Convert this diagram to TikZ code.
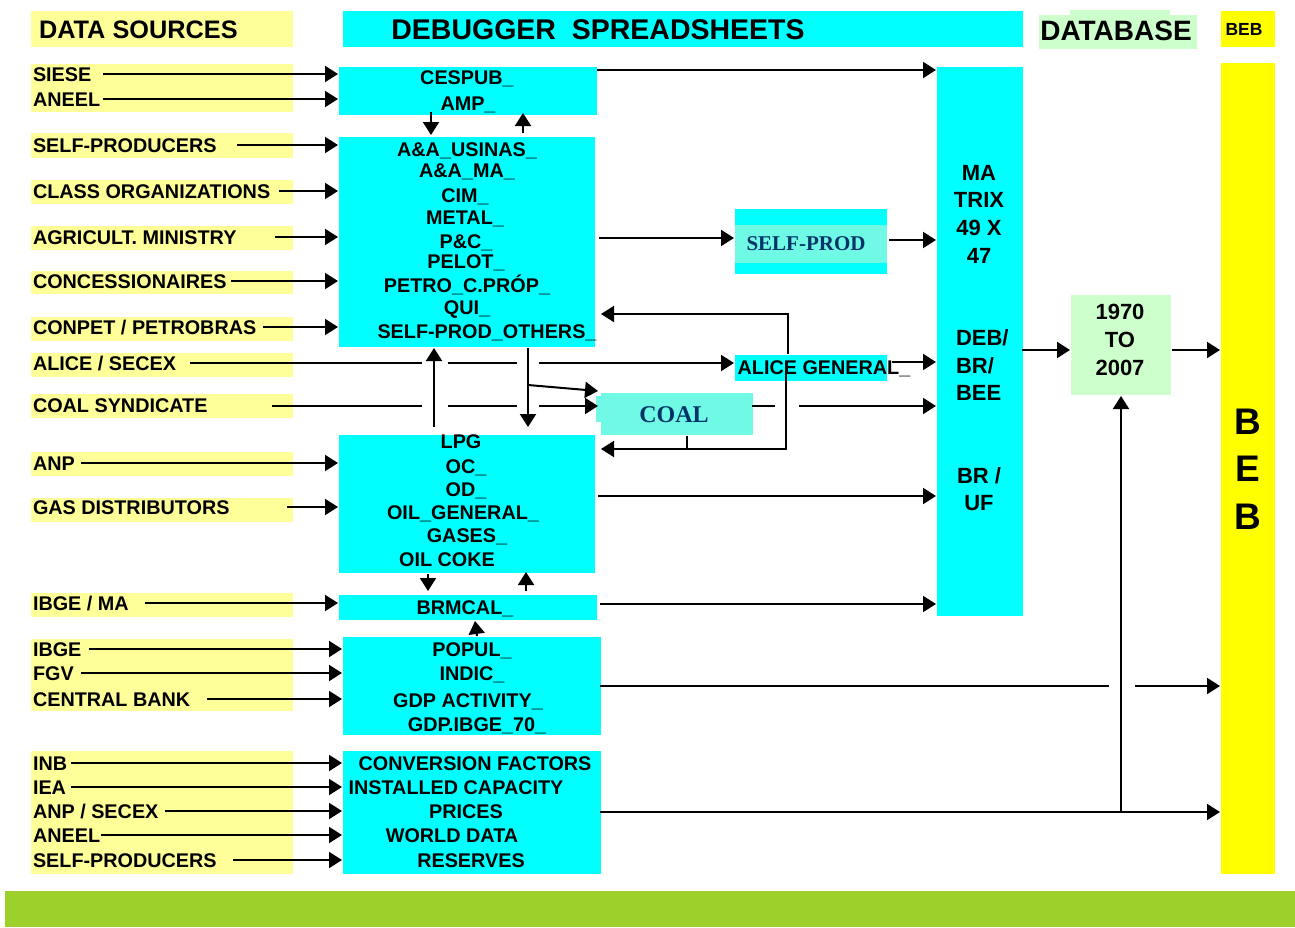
\documentclass[tikz,border=0pt]{standalone}
\usepackage{fontspec}
\setmainfont{Liberation Sans}
\newfontfamily\serifbold{Liberation Serif}
\usetikzlibrary{arrows.meta}

\definecolor{aqua}{RGB}{0,255,255}
\definecolor{paleyellow}{RGB}{255,255,153}
\definecolor{bebyellow}{RGB}{255,255,0}
\definecolor{mint}{RGB}{204,255,204}
\definecolor{coalfill}{RGB}{112,250,230}
\definecolor{navytext}{RGB}{0,51,102}
\definecolor{footgreen}{RGB}{158,208,44}

\begin{document}
\begin{tikzpicture}
    [ x=1pt, y=-1pt, line width=2pt,
      >={Triangle[length=13pt,width=16pt]},
      srcbg/.style={fill=paleyellow, anchor=north west, inner sep=0pt, minimum width=262pt},
      sheet/.style={fill=aqua, anchor=north west, inner sep=0pt},
      dbbg/.style={fill=mint, anchor=north west, inner sep=0pt},
      bebbg/.style={fill=bebyellow, anchor=north west, inner sep=0pt},
      coalbg/.style={fill=coalfill, anchor=north west, inner sep=0pt},
      lbl/.style={inner sep=0pt, font=\bfseries\fontsize{19.8}{22}\selectfont,
                  text height=14.2pt, text depth=0pt},
      src/.style={lbl, anchor=west},
      title/.style={lbl, font=\bfseries\fontsize{28.5}{31}\selectfont, text height=20.4pt},
      mat/.style={lbl, font=\bfseries\fontsize{22}{24}\selectfont, text height=15.8pt},
      serif/.style={inner sep=0pt, text=navytext, text height=14pt, text depth=0pt,
                    font=\serifbold\bfseries\fontsize{21}{24}\selectfont},
    ]
    \useasboundingbox (0,0) rectangle (1295,927);
    \fill[footgreen] (5,891) rectangle (1295,927);

    % headers
    \node[srcbg, minimum height=36pt] (hdrsrc) at (30,10) {};
    \node[title, anchor=west, font=\bfseries\fontsize{25.3}{28}\selectfont, text height=18.1pt]
        (tsrc) at (38,29) {DATA SOURCES};
    \node[sheet, minimum width=680pt, minimum height=36pt] (hdrdbg) at (342,10) {};
    \node[title] (tdbg) at (598,29) {DEBUGGER\ \ SPREADSHEETS};
    \fill[mint] (1070,10) rectangle (1170,48);
    \node[dbbg, minimum width=158pt, minimum height=34pt] (hdrdb) at (1038,14) {};
    \node[title, font=\bfseries\fontsize{28}{30}\selectfont, text height=20pt]
        (tdb) at (1116,30) {DATABASE};
    \node[bebbg, minimum width=54pt, minimum height=36pt] (hdrbeb) at (1220,10) {};
    \node[lbl, font=\bfseries\fontsize{17.5}{20}\selectfont, text height=12.5pt]
        (tbeb) at (1244,29) {BEB};

    % yellow source boxes
    \foreach \n / \top / \h in {1/63/48, 2/132/25, 3/179/24, 4/225/24, 5/270/23,
                                6/316/24, 7/352/24, 8/393/24, 9/451/24, 10/497/24,
                                11/592/24, 12/638/72, 13/750/123}
        \node[srcbg, minimum height=\h pt] (srcbox\n) at (30,\top) {};

    % debugger spreadsheets
    \node[sheet, minimum width=258pt, minimum height=48pt] (cespub) at (338,66) {};
    \node[sheet, minimum width=256pt, minimum height=210pt] (aa) at (338,136) {};
    \node[sheet, minimum width=256pt, minimum height=138pt] (lpg) at (338,434) {};
    \node[sheet, minimum width=258pt, minimum height=25pt] (brmcal) at (338,594) {};
    \node[sheet, minimum width=258pt, minimum height=98pt] (popul) at (342,636) {};
    \node[sheet, minimum width=258pt, minimum height=123pt] (conv) at (342,750) {};
    \node[sheet, minimum width=152pt, minimum height=65pt] (selfprod) at (734,208) {};
    \node[coalbg, minimum width=152pt, minimum height=38pt] (selfband) at (734,224) {};
    \node[sheet, minimum width=152pt, minimum height=26pt] (alice) at (734,354) {};
    \fill[coalfill] (596,396) rectangle (610,422);
    \node[coalbg, minimum width=152pt, minimum height=42pt] (coal) at (600,392) {};
    \node[sheet, minimum width=86pt, minimum height=549pt] (matrix) at (936,66) {};

    % database and BEB
    \node[dbbg, minimum width=100pt, minimum height=100pt] (period) at (1070,294) {};
    \node[bebbg, minimum width=54pt, minimum height=811pt] (beb) at (1220,62) {};

    \foreach \txt / \cx / \y [count=\i] in {
        CESPUB\_/467/77, AMP\_/468/103,
        A\&A\_USINAS\_/467/149, A\&A\_MA\_/467/170, CIM\_/465/195, METAL\_/465/217,
        P\&C\_/466/241, PELOT\_/466/261, PETRO\_C.PRÓP\_/467/285, QUI\_/467/307,
        SELF-PROD\_OTHERS\_/487/331,
        LPG/461/441, OC\_/466/466, OD\_/466/489, OIL\_GENERAL\_/463/512,
        GASES\_/467/535, {OIL COKE}/447/559,
        BRMCAL\_/465/607,
        POPUL\_/472/649, INDIC\_/472/673, {GDP ACTIVITY\_}/468/700, GDP.IBGE\_70\_/477/724,
        {CONVERSION FACTORS}/475/763, {INSTALLED CAPACITY}/456/787, PRICES/466/811,
        {WORLD DATA}/452/835, RESERVES/471/860}
        \node[lbl] (row\i) at (\cx,\y) {\txt};

    \node[serif] (tselfprod) at (806,243) {SELF-PROD};
    \node[serif, font=\serifbold\bfseries\fontsize{24}{26}\selectfont, text height=16pt]
        (tcoal) at (674,414) {COAL};
    \node[lbl] (talice) at (824,367) {ALICE GENERAL\_};

    \foreach \txt / \y [count=\i] in {MA/173, TRIX/200, {49 X}/228, 47/256, {BR /}/476, UF/503}
        \node[mat] (mat\i) at (979,\y) {\txt};
    \foreach \txt / \y [count=\i] in {{DEB/}/338, {BR/}/366, BEE/393}
        \node[mat, anchor=west] (deb\i) at (955,\y) {\txt};
    \foreach \txt / \y [count=\i] in {1970/312, TO/340, 2007/368}
        \node[mat] (year\i) at (1120,\y) {\txt};
    \foreach \txt / \y [count=\i] in {B/421, E/468, B/516}
        \node[lbl, font=\bfseries\fontsize{37}{40}\selectfont, text height=26.5pt]
            (big\i) at (1248,\y) {\txt};

    % sources into the spreadsheets
    \foreach \n / \txt / \y / \sx / \dest in {
        sSiese/SIESE/74/103/cespub, sAneel/ANEEL/99/103/cespub,
        sSelfA/SELF-PRODUCERS/145/237/aa, sClass/CLASS ORGANIZATIONS/191/279/aa,
        sAgri/AGRICULT. MINISTRY/237/275/aa, sConc/CONCESSIONAIRES/281/231/aa,
        sConpet/{CONPET / PETROBRAS}/327/263/aa,
        sAnp/ANP/463/81/lpg, sGas/GAS DISTRIBUTORS/507/287/lpg,
        sIbgeMa/{IBGE / MA}/603/145/brmcal,
        sIbge/IBGE/649/89/popul, sFgv/FGV/673/81/popul, sBank/CENTRAL BANK/699/207/popul,
        sInb/INB/763/71/conv, sIea/IEA/787/71/conv, sAnpSecex/{ANP / SECEX}/811/165/conv,
        sAneelB/ANEEL/835/101/conv, sSelfB/SELF-PRODUCERS/860/233/conv}
    {
        \node[src] (\n) at (32,\y) {\txt};
        \coordinate (st\n) at (\sx,\y);
        \draw[->] (st\n) -- (st\n -| \dest.west);
    }
    \node[src] (sAlice) at (32,363) {ALICE / SECEX};
    \node[src] (sCoal) at (32,405) {COAL SYNDICATE};

    % links between the spreadsheets
    \draw[->] ([xshift=-37pt,yshift=4pt]cespub.south) -- ++(0,23);
    \draw[->] ([xshift=56pt,yshift=3pt]aa.north) -- ++(0,-20);
    \draw[->] ([xshift=61pt]aa.south) coordinate (dn1) -- ++(0,79);
    \draw[->] ([yshift=-37pt]dn1) -- ([xshift=-2pt,yshift=1pt]coal.north west);
    \draw[->] ([xshift=-33pt,yshift=7pt]lpg.north) coordinate (up1) -- (up1 |- aa.south);
    \draw[->] ([xshift=-39pt]lpg.south) -- ++(0,17);
    \draw[->] ([xshift=58pt,yshift=3pt]brmcal.north) -- ++(0,-19);
    \draw[->] ([xshift=5pt]popul.north) -- ([xshift=7pt]brmcal.south);

    \coordinate (aliceSt) at (190,363);
    \draw[->] (aliceSt) -- ([xshift=-12pt]aliceSt -| up1)
        ([xshift=14pt]aliceSt -| up1) -- ([xshift=-11pt]aliceSt -| dn1)
        ([xshift=11pt]aliceSt -| dn1) -- (aliceSt -| alice.west);
    \coordinate (coalSt) at (272,406);
    \draw[->] (coalSt) -- ([xshift=-12pt]coalSt -| up1)
        ([xshift=14pt]coalSt -| up1) -- ([xshift=-11pt]coalSt -| dn1)
        ([xshift=11pt]coalSt -| dn1) -- ([xshift=-2pt]coalSt -| coal.west);

    \coordinate (aliceUp) at (788,354);
    \coordinate (aaIn) at (601,314);
    \draw[->] (aliceUp) |- (aaIn);
    \coordinate (aliceDn) at (786,372);
    \coordinate (lpgIn) at (601,449);
    \draw[->] (aliceDn) |- (lpgIn);
    \draw ([xshift=10pt]coal.south) -- ([xshift=10pt]coal.south |- lpgIn);

    % into the matrix
    \coordinate (cespubOut) at (597,70);
    \draw[->] (cespubOut) -- (cespubOut -| matrix.west);
    \coordinate (aaOut) at (599,238);
    \draw[->] (aaOut) -- (aaOut -| selfprod.west);
    \coordinate (spOut) at (889,240);
    \draw[->] (spOut) -- (spOut -| matrix.west);
    \coordinate (aliceOut) at (892,362);
    \draw[->] (aliceOut) -- (aliceOut -| matrix.west);
    \coordinate (coalOut) at (752,406);
    \draw[->] (coalOut) -- ([xshift=-11pt]coalOut -| aliceDn)
        ([xshift=13pt]coalOut -| aliceDn) -- (coalOut -| matrix.west);
    \coordinate (lpgOut) at (598,496);
    \draw[->] (lpgOut) -- (lpgOut -| matrix.west);
    \coordinate (brmcalOut) at (600,604);
    \draw[->] (brmcalOut) -- (brmcalOut -| matrix.west);

    % database and BEB
    \coordinate (matOut) at (1022,350);
    \draw[->] (matOut) -- (matOut -| period.west);
    \draw[->] (matOut -| period.east) -- (matOut -| beb.west);
    \coordinate (populOut) at (600,686);
    \draw[->] (populOut) -- ([xshift=-12pt]populOut -| period.south)
        ([xshift=14pt]populOut -| period.south) -- (populOut -| beb.west);
    \coordinate (convOut) at (600,812);
    \draw[->] (convOut) -- (convOut -| beb.west);
    \draw[->] (convOut -| period.south) -- (period.south);
\end{tikzpicture}
\end{document}
